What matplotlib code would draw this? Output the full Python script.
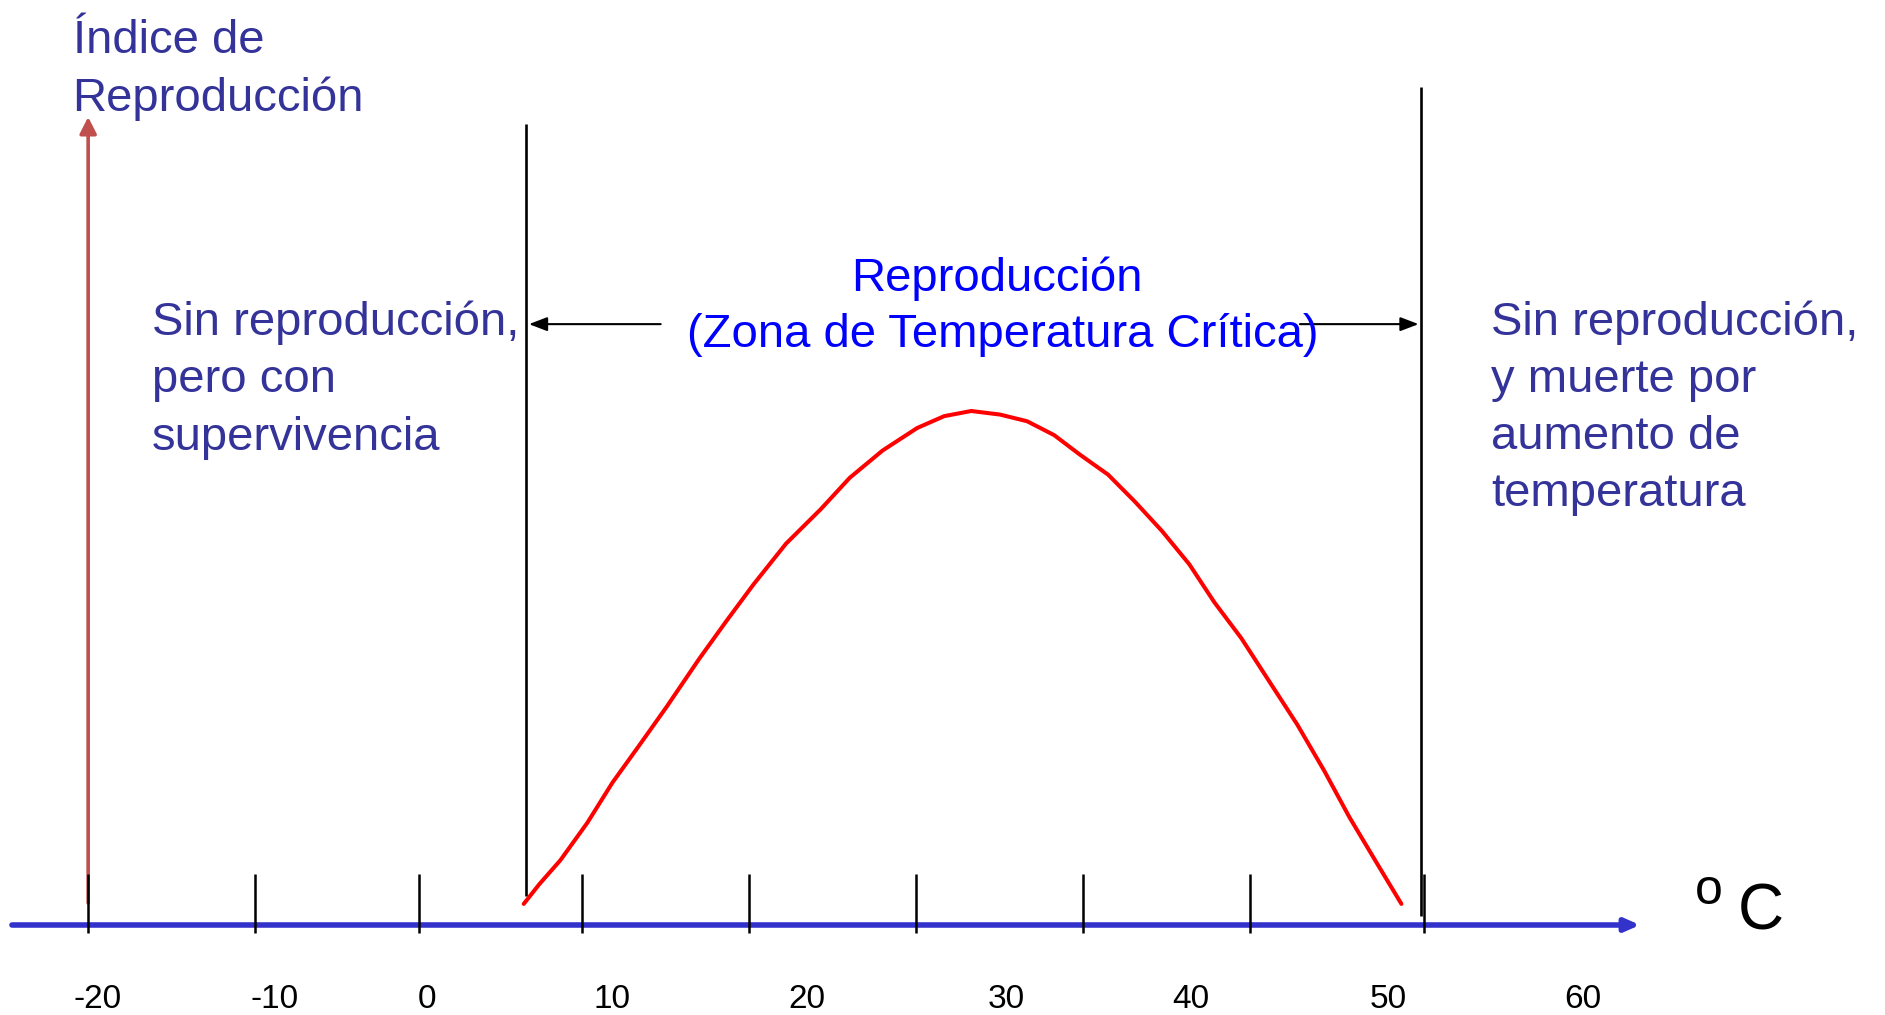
import matplotlib
matplotlib.use("Agg")
import matplotlib.pyplot as plt

plt.rcParams['font.family'] = ['Liberation Sans', 'DejaVu Sans']

# ---------------- data (temperature in °C, reproduction index, peak = 100) -------------
temp_c = [5.2, 6.0, 7.1, 8.5, 9.8, 11.2, 12.6, 14.3, 15.7, 17.1, 18.8, 20.6, 22.1,
          23.8, 25.6, 27.0, 28.4, 29.9, 31.3, 32.7, 34.0, 35.5, 36.9, 38.3, 39.7,
          41.0, 42.4, 43.9, 45.3, 46.7, 48.0, 49.4, 50.7]
repro_index = [4.1, 7.9, 12.6, 19.9, 27.7, 35.0, 42.4, 51.8, 59.1, 66.2, 74.2, 80.9,
               87.0, 92.3, 96.7, 99.0, 100.0, 99.3, 98.0, 95.3, 91.6, 87.6, 82.3, 76.6,
               70.2, 62.8, 55.8, 47.1, 39.0, 30.0, 21.0, 12.2, 4.1]

tick_labels = ['-20', '-10', '0', '10', '20', '30', '40', '50', '60']
tick_label_pos = [-16.9, -7.7, 0.2, 9.8, 19.9, 30.2, 39.8, 50.0, 60.1]
tick_marks = [-17.4, -8.75, -0.23, 8.24, 16.9, 25.55, 34.21, 42.86, 51.86]

zone_limits = [5.3, 51.7]          # critical temperature zone boundaries

# ---------------- figure ----------------
fig = plt.figure(figsize=(18.85, 10.15), dpi=100)
ax = fig.add_axes([0, 0, 1, 1])
ax.set_xlim(-21.95, 75.77)
ax.set_ylim(-17.51, 179.96)
ax.axis('off')

NAVY = '#333399'
BLUE = '#0000FF'
RED_AXIS = '#C0504D'
AXIS_BLUE = '#3333CC'

# horizontal (temperature) axis
ax.annotate('', xy=(63.07, 0), xytext=(-21.33, 0),
            arrowprops=dict(arrowstyle='-|>,head_length=0.5,head_width=0.22',
                            color=AXIS_BLUE, lw=4.0, mutation_scale=17,
                            shrinkA=0, shrinkB=0), zorder=2)

# vertical (reproduction index) axis
ax.annotate('', xy=(-17.38, 157.2), xytext=(-17.38, 4.3),
            arrowprops=dict(arrowstyle='-|>,head_length=0.55,head_width=0.28',
                            color=RED_AXIS, lw=2.6, mutation_scale=18,
                            shrinkA=0, shrinkB=0), zorder=2)

# tick marks
ax.vlines(tick_marks, -1.6, 9.9, colors='black', lw=1.8, zorder=3)

# tick labels
for lab, pos in zip(tick_labels, tick_label_pos):
    ax.text(pos, -16.15, lab, ha='center', va='baseline', fontsize=24, color='black')

# zone boundaries
ax.vlines(zone_limits[0], 5.7, 155.8, colors='black', lw=1.9, zorder=3)
ax.vlines(zone_limits[1], 1.8, 163.1, colors='black', lw=1.9, zorder=3)

# arrows to boundaries
arrow_kw = dict(arrowstyle='-|>,head_length=1.1,head_width=0.42', color='black',
                lw=1.5, mutation_scale=10, shrinkA=0, shrinkB=0)
ax.annotate('', xy=(5.47, 116.9), xytext=(12.3, 116.9), arrowprops=arrow_kw)
ax.annotate('', xy=(51.59, 116.9), xytext=(45.44, 116.9), arrowprops=arrow_kw)

# reproduction curve
ax.plot(temp_c, repro_index, color='#FF0000', lw=2.9, solid_joinstyle='round',
        solid_capstyle='round', zorder=4)

# ---------------- texts ----------------
FS = 34
ax.text(-18.19, 169.6, 'Índice de', fontsize=FS, color=NAVY, va='baseline', ha='left')
ax.text(-18.19, 158.4, 'Reproducción', fontsize=FS, color=NAVY, va='baseline', ha='left')

left_lines = ['Sin reproducción,', 'pero con', 'supervivencia']
for i, line in enumerate(left_lines):
    ax.text(-14.07, 114.8 - i * 11.2, line, fontsize=FS, color=NAVY,
            va='baseline', ha='left')

right_lines = ['Sin reproducción,', 'y muerte por', 'aumento de', 'temperatura']
for i, line in enumerate(right_lines):
    ax.text(55.35, 114.8 - i * 11.1, line, fontsize=FS, color=NAVY,
            va='baseline', ha='left')

ax.text(29.71, 123.35, 'Reproducción', fontsize=FS, color=BLUE, va='baseline', ha='center')
ax.text(30.05, 112.4, '(Zona de Temperatura Crítica)', fontsize=FS, color=BLUE,
        va='baseline', ha='center')

ax.text(65.92, 4.1, 'o', fontsize=36, color='black', va='baseline', ha='left')
ax.text(68.13, -0.97, 'C', fontsize=46, color='black', va='baseline', ha='left')

fig.savefig('out.png', dpi=100)
